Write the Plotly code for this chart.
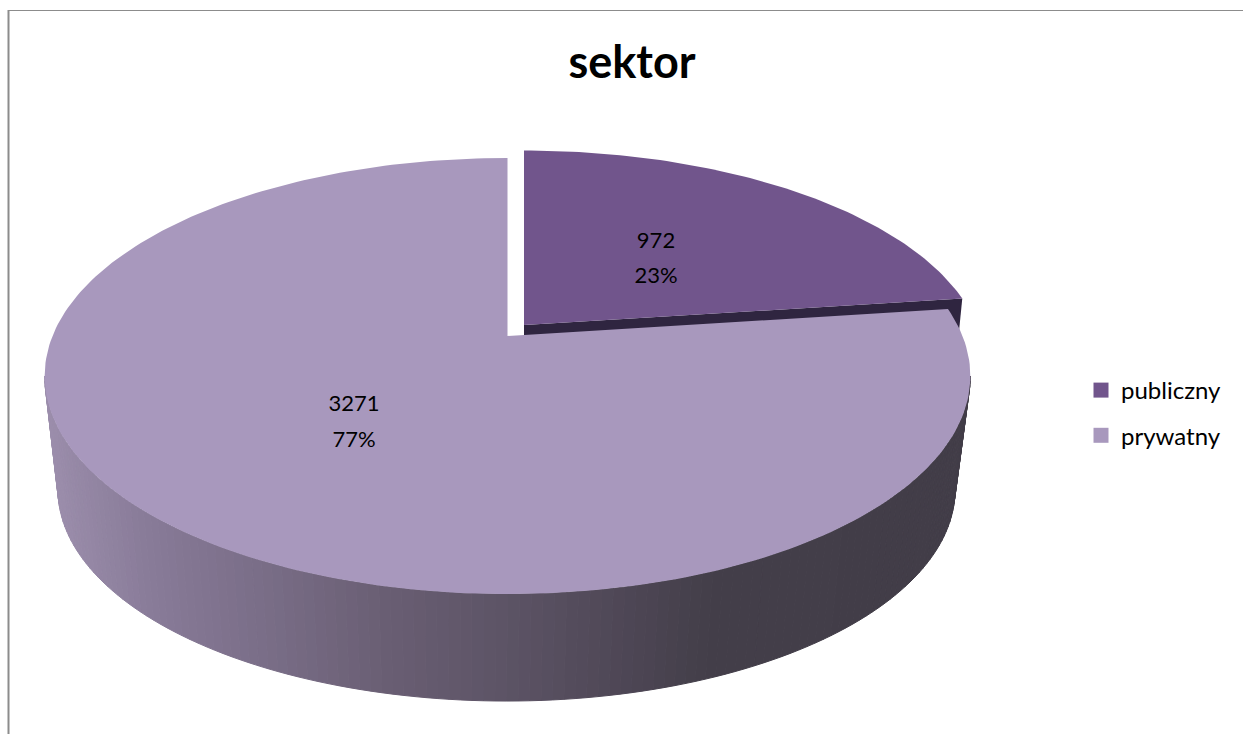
import math
import plotly.graph_objects as go

# ---- data ----
categories = ["publiczny", "prywatny"]
values = [972, 3271]
percent_labels = ["23%", "77%"]
title_text = "sektor"

# ---- styles ----
slice_colors = ["#71558C", "#A898BD"]
cut_color = "#2F2540"
wall_stops = [(44, "#9D8FAD"), (150, "#887B98"), (260, "#7A6E88"), (380, "#6A5F74"),
              (500, "#5D5466"), (640, "#4C4553"), (710, "#433E49"), (970, "#423D48")]

# ---- projection of the tilted disc onto the page (pixel-based axes) ----
K = 0.1835
RX = 455.0
RY = 210.7
# centre x, centre y, x scale, y scale
TOP_BIG = (507.5, 336.0, 1.0, 1.0)
TOP_SMALL = (524.0, 325.0, 0.995, 0.98)
BOTTOM = (506.5, 451.0, 0.969, 0.969)


def project(theta, frame, r=1.0):
    """theta: radians clockwise from north."""
    x0, y0, sx, sy = frame
    X, Y = r * math.sin(theta), r * math.cos(theta)
    w = 1 + K * Y
    return x0 + sx * RX * X / w, y0 - sy * RY * Y / w


def hexmix(a, b, f):
    ca = [int(a[i:i + 2], 16) for i in (1, 3, 5)]
    cb = [int(b[i:i + 2], 16) for i in (1, 3, 5)]
    return "#" + "".join(f"{round(p + (q - p) * f):02X}" for p, q in zip(ca, cb))


def wall_color(x):
    for (x1, c1), (x2, c2) in zip(wall_stops, wall_stops[1:]):
        if x <= x2:
            return hexmix(c1, c2, max(0.0, (x - x1) / (x2 - x1)))
    return wall_stops[-1][1]


fig = go.Figure()


def polygon(pts, color, line=True):
    fig.add_trace(go.Scatter(
        x=[p[0] for p in pts] + [pts[0][0]],
        y=[p[1] for p in pts] + [pts[0][1]],
        mode="lines", fill="toself", fillcolor=color,
        line=dict(color=color, width=1 if line else 0),
        hoverinfo="skip", showlegend=False))


total = sum(values)
boundary = 2 * math.pi * values[0] / total

# outer wall of the big slice: front half, between the two silhouette points
t_start = math.pi / 2 + math.asin(K)
t_end = 3 * math.pi / 2 - math.asin(K)
N = 130
for i in range(N):
    a = t_start + (t_end - t_start) * i / N
    b = t_start + (t_end - t_start) * (i + 1) / N
    quad = [project(a, TOP_BIG), project(b, TOP_BIG), project(b, BOTTOM), project(a, BOTTOM)]
    polygon(quad, wall_color(sum(p[0] for p in quad) / 4))

# top of the small slice with its cut face
pa = project(boundary, TOP_SMALL)
apex = (TOP_SMALL[0], TOP_SMALL[1])
polygon([apex, pa, (pa[0] - 5, pa[1] + 50), (apex[0], apex[1] + 50)], cut_color, line=False)
pts = [apex] + [project(boundary * i / 80, TOP_SMALL) for i in range(81)]
polygon(pts, slice_colors[0], line=False)

# top of the big slice
pts = [(TOP_BIG[0], TOP_BIG[1])] + [
    project(boundary + (2 * math.pi - boundary) * i / 240, TOP_BIG) for i in range(241)]
polygon(pts, slice_colors[1], line=False)

# data labels
label_x = [656, 354]
label_y = [(242, 277), (405, 441)]
for v, p, lx, (y1, y2) in zip(values, percent_labels, label_x, label_y):
    fig.add_trace(go.Scatter(
        x=[lx, lx], y=[y1, y2], mode="text", text=[str(v), p],
        textfont=dict(family="Lato", size=22, color="#000000"),
        textposition="middle center", hoverinfo="skip", showlegend=False))

# legend entries
for name, col in zip(categories, slice_colors):
    fig.add_trace(go.Scatter(
        x=[None], y=[None], mode="markers", name=name, legendgroup=name,
        marker=dict(symbol="square", size=15, color=col)))

fig.update_layout(
    width=1243, height=734, autosize=False,
    margin=dict(l=0, r=0, t=0, b=0),
    paper_bgcolor="white", plot_bgcolor="white",
    xaxis=dict(range=[0, 1243], visible=False, fixedrange=True),
    yaxis=dict(range=[734, 0], visible=False, fixedrange=True),
    title=dict(text=f"<b>{title_text}</b>", x=632 / 1243, xanchor="center",
               y=1 - 62 / 734, yanchor="middle",
               font=dict(family="Lato", size=45, color="#000000")),
    legend=dict(x=1081 / 1243, xanchor="left", y=1 - 413 / 734, yanchor="middle",
                font=dict(family="Lato", size=24, color="#000000"),
                tracegroupgap=11, itemwidth=30, bgcolor="rgba(0,0,0,0)"),
    shapes=[
        dict(type="line", x0=8.5, x1=8.5, y0=10, y1=734, line=dict(color="#8C8C8C", width=2)),
        dict(type="line", x0=8, x1=1243, y0=10.5, y1=10.5, line=dict(color="#8C8C8C", width=1)),
    ],
)

fig.write_html("out.html", config={"displayModeBar": False},
               post_script="document.body.style.margin='0';")
